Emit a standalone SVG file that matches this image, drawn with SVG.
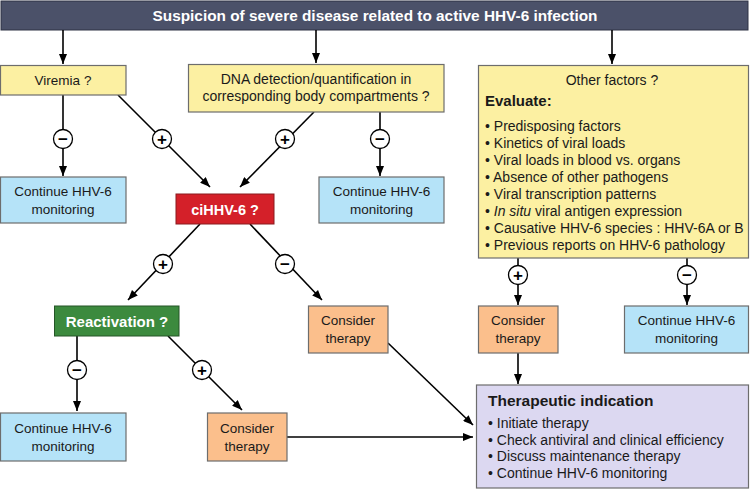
<svg xmlns="http://www.w3.org/2000/svg" width="750" height="491" viewBox="0 0 750 491">
<defs>
<marker id="ah" markerWidth="10" markerHeight="8" refX="10" refY="4" orient="auto" markerUnits="userSpaceOnUse">
<path d="M0,0 L10,4 L0,8 Z" fill="#000"/>
</marker>
<style>
text{font-family:"Liberation Sans",Arial,sans-serif;fill:#1a1a1a;font-size:13.5px}
.c{text-anchor:middle}
.w{fill:#fff;font-weight:bold}
.b{font-weight:bold}
.li{font-size:14px}
.yel{fill:#fcf0a2;stroke:#6d6d6d;stroke-width:1.2}
.blu{fill:#b5e3f8;stroke:#6d6d6d;stroke-width:1.2}
.org{fill:#fbbf8c;stroke:#6d6d6d;stroke-width:1.2}
.lav{fill:#dcd8f1;stroke:#6d6d6d;stroke-width:1.2}
.ln{stroke:#000;stroke-width:1.5;fill:none}
.ar{stroke:#000;stroke-width:1.6;fill:none;marker-end:url(#ah)}
.cir{fill:#fff;stroke:#000;stroke-width:1.3}
.sg{font-size:17px;font-weight:bold;text-anchor:middle;fill:#000}
</style>
</defs>
<rect width="750" height="491" fill="#fff"/>

<g id="header">
<rect x="1" y="1" width="747" height="29" fill="#4b5169" stroke="#2e3244" stroke-width="1"/>
<text x="375" y="20.5" class="c w" textLength="445" lengthAdjust="spacingAndGlyphs" style="font-size:15px">Suspicion of severe disease related to active HHV-6 infection</text>
</g>

<g id="connectors">
<line class="ar" x1="63" y1="30" x2="63" y2="64"/>
<line class="ar" x1="316" y1="30" x2="316" y2="63"/>
<line class="ar" x1="612" y1="30" x2="612" y2="64"/>
<line class="ar" x1="63" y1="95" x2="63" y2="176"/>
<line class="ar" x1="118" y1="95" x2="210" y2="187"/>
<line class="ar" x1="314" y1="112" x2="240" y2="187"/>
<line class="ar" x1="380" y1="112" x2="380" y2="176"/>
<line class="ar" x1="200" y1="224" x2="128" y2="300"/>
<line class="ar" x1="250" y1="224" x2="322" y2="300"/>
<line class="ar" x1="77" y1="336" x2="77" y2="411"/>
<line class="ar" x1="168" y1="336" x2="242" y2="410"/>
<line class="ar" x1="518" y1="258" x2="518" y2="305"/>
<line class="ar" x1="687" y1="258" x2="687" y2="305"/>
<line class="ar" x1="518" y1="353" x2="518" y2="384"/>
<line class="ar" x1="388" y1="343" x2="473" y2="425"/>
<line class="ar" x1="287" y1="437" x2="473" y2="437"/>
<g id="signs">
<circle class="cir" cx="63" cy="139" r="9.5"/><text class="sg" x="63" y="145">−</text>
<circle class="cir" cx="162" cy="139" r="9.5"/><text class="sg" x="162" y="145">+</text>
<circle class="cir" cx="285" cy="139" r="9.5"/><text class="sg" x="285" y="145">+</text>
<circle class="cir" cx="380" cy="139" r="9.5"/><text class="sg" x="380" y="145">−</text>
<circle class="cir" cx="163" cy="264" r="9.5"/><text class="sg" x="163" y="270">+</text>
<circle class="cir" cx="285" cy="264" r="9.5"/><text class="sg" x="285" y="270">−</text>
<circle class="cir" cx="77" cy="370" r="9.5"/><text class="sg" x="77" y="376">−</text>
<circle class="cir" cx="202" cy="370" r="9.5"/><text class="sg" x="202" y="376">+</text>
<circle class="cir" cx="518" cy="275" r="9.5"/><text class="sg" x="518" y="281">+</text>
<circle class="cir" cx="687" cy="275" r="9.5"/><text class="sg" x="687" y="281">−</text>
</g>
</g>

<g id="viremia">
<rect class="yel" x="0.5" y="65.5" width="125.5" height="29.5"/>
<text class="c" x="63" y="85">Viremia ?</text>
</g>

<g id="dna">
<rect class="yel" x="188.5" y="64.5" width="255.5" height="47.5"/>
<text class="c li" x="316" y="84">DNA detection/quantification in</text>
<text class="c li" x="316" y="101">corresponding body compartments ?</text>
</g>

<g id="other">
<rect class="yel" x="478.5" y="65.5" width="270" height="192.5"/>
<text class="c li" x="612" y="85">Other factors ?</text>
<text class="b" x="485" y="106" style="font-size:15px">Evaluate:</text>
<text class="li" x="485" y="131">• Predisposing factors</text>
<text class="li" x="485" y="148">• Kinetics of viral loads</text>
<text class="li" x="485" y="165">• Viral loads in blood vs. organs</text>
<text class="li" x="485" y="182">• Absence of other pathogens</text>
<text class="li" x="485" y="199">• Viral transcription patterns</text>
<text class="li" x="485" y="216">• <tspan font-style="italic">In situ</tspan> viral antigen expression</text>
<text class="li" x="485" y="233">• Causative HHV-6 species : HHV-6A or B</text>
<text class="li" x="485" y="250">• Previous reports on HHV-6 pathology</text>
</g>

<g id="continue1">
<rect class="blu" x="0.5" y="177" width="125.5" height="46"/>
<text class="c" x="63" y="196">Continue HHV-6</text>
<text class="c" x="63" y="214">monitoring</text>
</g>

<g id="continue2">
<rect class="blu" x="319" y="177" width="125" height="46"/>
<text class="c" x="381.5" y="196">Continue HHV-6</text>
<text class="c" x="381.5" y="214">monitoring</text>
</g>

<g id="cihhv6">
<rect x="176" y="194" width="98" height="30" fill="#d42029" stroke="#8a1a1f" stroke-width="1"/>
<text class="c w" x="225" y="214.5" style="font-size:14.5px">ciHHV-6 ?</text>
</g>

<g id="reactivation">
<rect x="54.5" y="306" width="124.5" height="30" fill="#3c8a3e" stroke="#255527" stroke-width="1"/>
<text class="c w" x="117" y="326.5" style="font-size:15px">Reactivation ?</text>
</g>

<g id="consider1">
<rect class="org" x="308.5" y="306" width="79.5" height="47"/>
<text class="c" x="348" y="325">Consider</text>
<text class="c" x="348" y="343">therapy</text>
</g>

<g id="consider2">
<rect class="org" x="478.5" y="306" width="79.5" height="47"/>
<text class="c" x="518" y="325">Consider</text>
<text class="c" x="518" y="343">therapy</text>
</g>

<g id="continue3">
<rect class="blu" x="624.5" y="306" width="124" height="47"/>
<text class="c" x="686.5" y="325">Continue HHV-6</text>
<text class="c" x="686.5" y="343">monitoring</text>
</g>

<g id="continue4">
<rect class="blu" x="0.5" y="413" width="125.5" height="48"/>
<text class="c" x="63" y="433">Continue HHV-6</text>
<text class="c" x="63" y="451">monitoring</text>
</g>

<g id="consider3">
<rect class="org" x="207.5" y="413" width="79.5" height="48"/>
<text class="c" x="247" y="433">Consider</text>
<text class="c" x="247" y="451">therapy</text>
</g>

<g id="therapeutic">
<rect class="lav" x="476.5" y="385" width="272" height="103"/>
<text class="b" x="488" y="406" style="font-size:15.5px">Therapeutic indication</text>
<text class="li" x="488" y="428">• Initiate therapy</text>
<text class="li" x="488" y="444.5">• Check antiviral and clinical efficiency</text>
<text class="li" x="488" y="461">• Discuss maintenance therapy</text>
<text class="li" x="488" y="477.5">• Continue HHV-6 monitoring</text>
</g>
</svg>
